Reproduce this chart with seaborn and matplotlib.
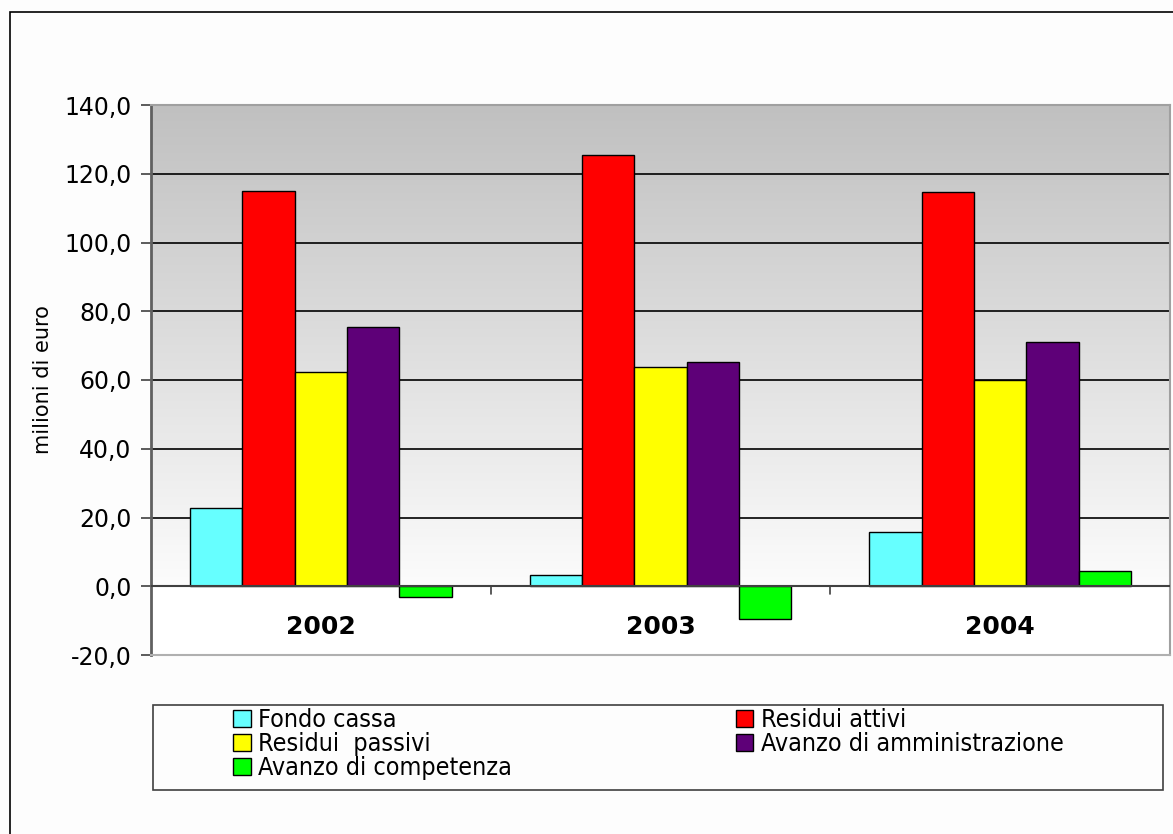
import numpy as np
import pandas as pd
import matplotlib
matplotlib.use("Agg")
import matplotlib.pyplot as plt
from matplotlib.patches import Rectangle
from matplotlib.colors import LinearSegmentedColormap
import seaborn as sns

years = ["2002", "2003", "2004"]
series = ["Fondo cassa", "Residui attivi", "Residui  passivi",
          "Avanzo di amministrazione", "Avanzo di competenza"]
fondo_cassa = [22.7, 3.2, 15.7]
residui_attivi = [115.0, 125.4, 114.7]
residui_passivi = [62.4, 63.7, 59.9]
avanzo_amministrazione = [75.3, 65.2, 71.0]
avanzo_competenza = [-3.2, -9.6, 4.4]
colors = ["#66FFFF", "#FF0000", "#FFFF00", "#5E0078", "#00FF00"]
yticks = [-20, 0, 20, 40, 60, 80, 100, 120, 140]

values = [fondo_cassa, residui_attivi, residui_passivi,
          avanzo_amministrazione, avanzo_competenza]
df = pd.DataFrame(
    [(y, s, v[i]) for s, v in zip(series, values) for i, y in enumerate(years)],
    columns=["anno", "voce", "valore"],
)

sns.set_style("white")
plt.rcParams["font.family"] = ["DejaVu Sans"]
plt.rcParams["text.color"] = "black"
plt.rcParams["axes.labelcolor"] = "black"
plt.rcParams["xtick.color"] = "black"
plt.rcParams["ytick.color"] = "black"

fig = plt.figure(figsize=(11.73, 8.34), dpi=100)
ax = fig.add_axes([151 / 1173, 1 - 655 / 834, 1019 / 1173, 550 / 834])

# outer chart frame
fig.patches.append(Rectangle((10 / 1173, 0 - 0.01), 1.2, 1 - 12 / 834 + 0.01,
                             transform=fig.transFigure, fill=False,
                             edgecolor="black", linewidth=1.2, zorder=0))

sns.barplot(data=df, x="anno", y="valore", hue="voce", hue_order=series,
            palette=colors, width=0.77, gap=0, edgecolor="black",
            linewidth=1.0, saturation=1, ax=ax, zorder=3)

# background: grey at the top fading to white at zero
grad = LinearSegmentedColormap.from_list("bg", ["#C0C0C0", "#FCFCFC"])
ax.imshow(np.linspace(0, 1, 256).reshape(-1, 1), cmap=grad, aspect="auto",
          extent=(-0.5, 2.5, 0, 140), origin="upper", zorder=0)
ax.set_xlim(-0.5, 2.5)
ax.set_ylim(-20, 140)

for v in yticks[2:-1]:
    ax.axhline(v, color="black", linewidth=1.2, zorder=1)
ax.axhline(0, color="#404040", linewidth=1.5, zorder=4)

ax.set_yticks(yticks)
ax.set_yticklabels([f"{v:.1f}".replace(".", ",") for v in yticks], fontsize=17)
ax.tick_params(axis="y", length=7, width=1.2, color="#404040", direction="out",
               left=True, pad=7)

ax.set_xticks(range(len(years)))
ax.set_xticklabels(years, fontsize=18, fontweight="bold")
ax.tick_params(axis="x", which="major", length=0, pad=-29)
for xb in [0.5, 1.5]:
    ax.plot([xb, xb], [0, -2.3], color="#404040", linewidth=1.2, zorder=4,
            clip_on=False)

ax.set_xlabel("")
ax.set_ylabel("milioni di euro", fontsize=15, labelpad=8)

for side, col in [("left", "#606060"), ("top", "#A0A0A0"),
                  ("right", "#A0A0A0"), ("bottom", "#B0B0B0")]:
    ax.spines[side].set_visible(True)
    ax.spines[side].set_color(col)
    ax.spines[side].set_linewidth(2 if side == "left" else 1.5)

# legend, column-major ordering for a two-column layout
handles, labels = ax.get_legend_handles_labels()
ax.get_legend().remove()
order = [0, 2, 4, 1, 3]
fig.patches.append(Rectangle((153 / 1173, 1 - 790 / 834), 1010 / 1173, 85 / 834,
                             transform=fig.transFigure, fill=False,
                             edgecolor="#404040", linewidth=1.2, zorder=5))
leg = fig.legend([handles[i] for i in order], [labels[i] for i in order],
                 ncol=2, loc="upper left",
                 bbox_to_anchor=(233 / 1173, 1 - 708 / 834),
                 frameon=False, handlelength=0.7,
                 handleheight=0.7, handletextpad=0.3, labelspacing=0.0,
                 columnspacing=8.95, borderaxespad=0, borderpad=0.0,
                 prop={"size": 18, "stretch": "condensed"})

fig.savefig("out.png", dpi=100, facecolor="#FDFDFD")
